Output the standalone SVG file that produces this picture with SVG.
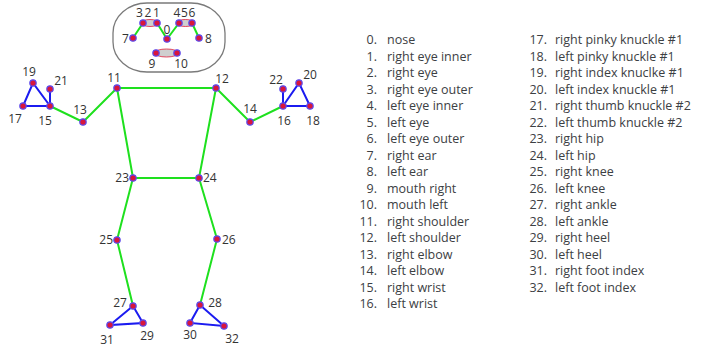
<svg xmlns="http://www.w3.org/2000/svg" width="716" height="349" viewBox="0 0 716 349">
<style>
.g{stroke:#1ee01e;stroke-width:2;fill:none;stroke-linecap:round}
.b{stroke:#1b1bf0;stroke-width:2;fill:none;stroke-linecap:round}
.p{fill:#d8163c;stroke:#5a4cf0;stroke-width:1.2}
.lb{font-family:"Open Sans","Liberation Sans",sans-serif;font-size:12px;fill:#333}
.li{font-family:"Open Sans","Liberation Sans",sans-serif;font-size:12.5px;fill:#3c4043}
.cap{fill:#cfcfcf;stroke:#e0203c;stroke-width:0.8}
</style>
<rect width="716" height="349" fill="#fff"/>
<g id="face">
<rect x="113" y="3" width="112" height="69" rx="34" ry="30" fill="none" stroke="#7a7a7a" stroke-width="1.3"/>
</g>
<g id="connectors">
<path class="g" d="M133 38L143 23M157 23L167 39L179 23M192 23L199 38"/>
<path class="g" d="M117 88L216 88M117 88L83 122L50 106M216 88L250 122L283 106M117 88L133 178L199 178L216 88M133 178L117 240L133 306M199 178L217 239L200 305"/>
<path class="b" d="M50 106L23 106L33 83ZM50 106L50 89M283 106L310 106L299 83ZM283 106L283 89M133 306L143 323L110 325ZM200 305L190 323L224 326Z"/>
</g>
<g id="eyes-mouth">
<ellipse class="cap" cx="150" cy="23" rx="9" ry="3.5"/>
<ellipse class="cap" cx="185.5" cy="23" rx="9" ry="3.5"/>
<ellipse class="cap" cx="166.5" cy="53" rx="12" ry="4"/>
</g>
<g id="points">
<circle class="p" cx="167" cy="39" r="3.2"/>
<circle class="p" cx="157" cy="23" r="3.2"/>
<circle class="p" cx="143" cy="23" r="3.2"/>
<circle class="p" cx="179" cy="23" r="3.2"/>
<circle class="p" cx="192" cy="23" r="3.2"/>
<circle class="p" cx="133" cy="38" r="3.2"/>
<circle class="p" cx="199" cy="38" r="3.2"/>
<circle class="p" cx="156" cy="53" r="3.2"/>
<circle class="p" cx="177" cy="53" r="3.2"/>
<circle class="p" cx="117" cy="88" r="3.2"/>
<circle class="p" cx="216" cy="88" r="3.2"/>
<circle class="p" cx="83" cy="122" r="3.2"/>
<circle class="p" cx="250" cy="122" r="3.2"/>
<circle class="p" cx="50" cy="106" r="3.2"/>
<circle class="p" cx="283" cy="106" r="3.2"/>
<circle class="p" cx="23" cy="106" r="3.2"/>
<circle class="p" cx="310" cy="106" r="3.2"/>
<circle class="p" cx="33" cy="83" r="3.2"/>
<circle class="p" cx="299" cy="83" r="3.2"/>
<circle class="p" cx="50" cy="89" r="3.2"/>
<circle class="p" cx="283" cy="89" r="3.2"/>
<circle class="p" cx="133" cy="178" r="3.2"/>
<circle class="p" cx="199" cy="178" r="3.2"/>
<circle class="p" cx="117" cy="240" r="3.2"/>
<circle class="p" cx="217" cy="239" r="3.2"/>
<circle class="p" cx="133" cy="306" r="3.2"/>
<circle class="p" cx="200" cy="305" r="3.2"/>
<circle class="p" cx="143" cy="323" r="3.2"/>
<circle class="p" cx="190" cy="323" r="3.2"/>
<circle class="p" cx="110" cy="325" r="3.2"/>
<circle class="p" cx="224" cy="326" r="3.2"/>
</g>
<g id="point-labels" class="lb" text-anchor="middle">
<text x="139.5" y="17">3</text>
<text x="148" y="17">2</text>
<text x="156.5" y="17">1</text>
<text x="177" y="17">4</text>
<text x="184.5" y="17">5</text>
<text x="192" y="17">6</text>
<text x="167" y="34">0</text>
<text x="125.5" y="43">7</text>
<text x="208.5" y="43">8</text>
<text x="152" y="68">9</text>
<text x="181" y="68">10</text>
<text x="114" y="82">11</text>
<text x="222" y="83">12</text>
<text x="80" y="114">13</text>
<text x="250" y="113">14</text>
<text x="45" y="125">15</text>
<text x="284" y="125">16</text>
<text x="15" y="123">17</text>
<text x="313" y="125">18</text>
<text x="29" y="76">19</text>
<text x="310" y="79">20</text>
<text x="61" y="85">21</text>
<text x="276" y="84">22</text>
<text x="129" y="182" text-anchor="end">23</text>
<text x="203" y="182" text-anchor="start">24</text>
<text x="113" y="244" text-anchor="end">25</text>
<text x="222" y="244" text-anchor="start">26</text>
<text x="120" y="307">27</text>
<text x="215" y="307">28</text>
<text x="147" y="340">29</text>
<text x="190" y="339">30</text>
<text x="107" y="344">31</text>
<text x="232" y="343">32</text>
</g>
<g id="legend-left" class="li">
<g text-anchor="end">
<text x="377" y="44">0.</text>
<text x="377" y="60.5">1.</text>
<text x="377" y="77">2.</text>
<text x="377" y="93.5">3.</text>
<text x="377" y="110">4.</text>
<text x="377" y="126.5">5.</text>
<text x="377" y="143">6.</text>
<text x="377" y="159.5">7.</text>
<text x="377" y="176">8.</text>
<text x="377" y="192.5">9.</text>
<text x="377" y="209">10.</text>
<text x="377" y="225.5">11.</text>
<text x="377" y="242">12.</text>
<text x="377" y="258.5">13.</text>
<text x="377" y="275">14.</text>
<text x="377" y="291.5">15.</text>
<text x="377" y="308">16.</text>
</g>
<text x="387" y="44">nose</text>
<text x="387" y="60.5">right eye inner</text>
<text x="387" y="77">right eye</text>
<text x="387" y="93.5">right eye outer</text>
<text x="387" y="110">left eye inner</text>
<text x="387" y="126.5">left eye</text>
<text x="387" y="143">left eye outer</text>
<text x="387" y="159.5">right ear</text>
<text x="387" y="176">left ear</text>
<text x="387" y="192.5">mouth right</text>
<text x="387" y="209">mouth left</text>
<text x="387" y="225.5">right shoulder</text>
<text x="387" y="242">left shoulder</text>
<text x="387" y="258.5">right elbow</text>
<text x="387" y="275">left elbow</text>
<text x="387" y="291.5">right wrist</text>
<text x="387" y="308">left wrist</text>
</g>
<g id="legend-right" class="li">
<g text-anchor="end">
<text x="547" y="44">17.</text>
<text x="547" y="60.5">18.</text>
<text x="547" y="77">19.</text>
<text x="547" y="93.5">20.</text>
<text x="547" y="110">21.</text>
<text x="547" y="126.5">22.</text>
<text x="547" y="143">23.</text>
<text x="547" y="159.5">24.</text>
<text x="547" y="176">25.</text>
<text x="547" y="192.5">26.</text>
<text x="547" y="209">27.</text>
<text x="547" y="225.5">28.</text>
<text x="547" y="242">29.</text>
<text x="547" y="258.5">30.</text>
<text x="547" y="275">31.</text>
<text x="547" y="291.5">32.</text>
</g>
<text x="555" y="44">right pinky knuckle #1</text>
<text x="555" y="60.5">left pinky knuckle #1</text>
<text x="555" y="77">right index knuclke #1</text>
<text x="555" y="93.5">left index knuckle #1</text>
<text x="555" y="110">right thumb knuckle #2</text>
<text x="555" y="126.5">left thumb knuckle #2</text>
<text x="555" y="143">right hip</text>
<text x="555" y="159.5">left hip</text>
<text x="555" y="176">right knee</text>
<text x="555" y="192.5">left knee</text>
<text x="555" y="209">right ankle</text>
<text x="555" y="225.5">left ankle</text>
<text x="555" y="242">right heel</text>
<text x="555" y="258.5">left heel</text>
<text x="555" y="275">right foot index</text>
<text x="555" y="291.5">left foot index</text>
</g>
</svg>
